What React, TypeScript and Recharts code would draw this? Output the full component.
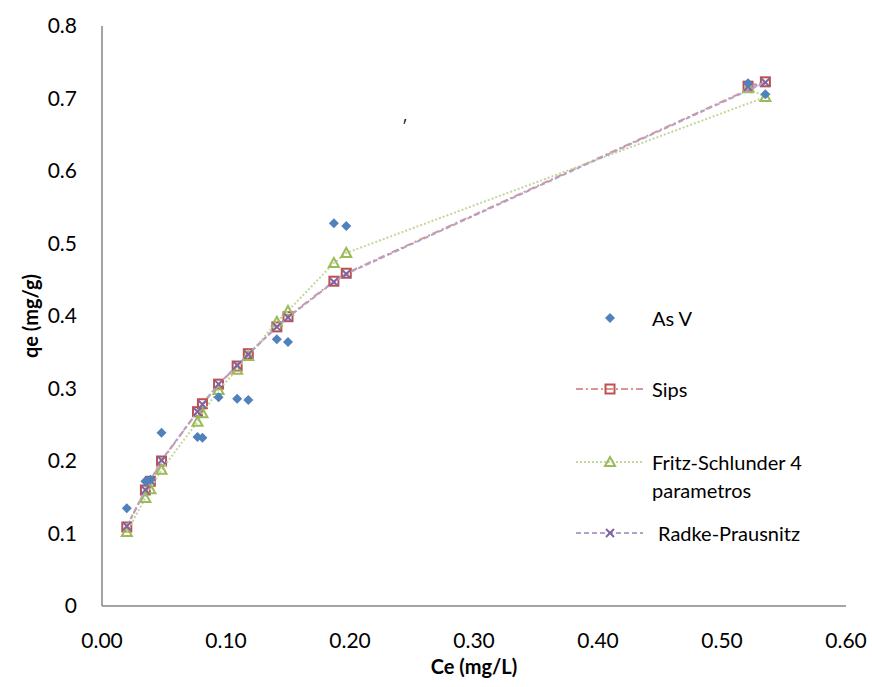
import React from "react";
import {
  ScatterChart,
  Scatter,
  XAxis,
  YAxis,
  Label,
} from "recharts";

// Ce (mg/L) — same order as the source sheet (last two swapped)
const ceValues = [0.02, 0.035, 0.039, 0.048, 0.077, 0.081, 0.094, 0.109, 0.118, 0.141, 0.15, 0.187, 0.197, 0.535, 0.521];

// qe (mg/g)
const asV = [0.135, 0.172, 0.174, 0.239, 0.233, 0.232, 0.288, 0.286, 0.284, 0.368, 0.364, 0.528, 0.524, 0.706, 0.721];
const sips = [0.109, 0.16, 0.172, 0.2, 0.268, 0.279, 0.306, 0.331, 0.348, 0.385, 0.399, 0.448, 0.459, 0.723, 0.717];
const fritz = [0.102, 0.149, 0.161, 0.188, 0.254, 0.266, 0.298, 0.326, 0.345, 0.392, 0.407, 0.473, 0.487, 0.702, 0.714];
const radke = [0.11, 0.16, 0.173, 0.201, 0.268, 0.278, 0.306, 0.332, 0.347, 0.385, 0.398, 0.447, 0.458, 0.722, 0.716];

const xTicks = [0, 0.1, 0.2, 0.3, 0.4, 0.5, 0.6];
const yTicks = [0, 0.1, 0.2, 0.3, 0.4, 0.5, 0.6, 0.7, 0.8];

const FONT = "Lato, 'Open Sans', sans-serif";
const AXIS = "#868686";

const BLUE = "#4F81BD";
const RED = "#C0504D";
const PINK = "#DA9694";
const GREEN = "#9BBB59";
const LIGHT_GREEN = "#C3D69B";
const PURPLE = "#8064A2";
const LIGHT_PURPLE = "#B3A2C7";

const toPoints = (ys: number[]) => ceValues.map((x, i) => ({ x, y: ys[i] }));

function Diamond({ cx, cy }: any) {
  const r = 5;
  return <polygon points={`${cx},${cy - r} ${cx + r},${cy} ${cx},${cy + r} ${cx - r},${cy}`} fill={BLUE} />;
}

function Square({ cx, cy }: any) {
  return <rect x={cx - 4.5} y={cy - 4.5} width={9} height={9} fill="none" stroke={RED} strokeWidth={2} />;
}

function Triangle({ cx, cy }: any) {
  return (
    <polygon
      points={`${cx},${cy - 5} ${cx + 5},${cy + 4} ${cx - 5},${cy + 4}`}
      fill="none"
      stroke={GREEN}
      strokeWidth={2}
    />
  );
}

function Cross({ cx, cy }: any) {
  const r = 4;
  return (
    <g stroke={PURPLE} strokeWidth={2}>
      <line x1={cx - r} y1={cy - r} x2={cx + r} y2={cy + r} />
      <line x1={cx - r} y1={cy + r} x2={cx + r} y2={cy - r} />
    </g>
  );
}

const legendRows = [
  { name: "As V", top: 318, line: null as any, Marker: Diamond, textLeft: 652 },
  { name: "Sips", top: 389, line: { stroke: PINK, dash: "7 3 2 3" }, Marker: Square, textLeft: 652 },
  { name: "Fritz-Schlunder 4\nparametros", top: 462, line: { stroke: LIGHT_GREEN, dash: "2 2" }, Marker: Triangle, textLeft: 652 },
  { name: "Radke-Prausnitz", top: 533, line: { stroke: LIGHT_PURPLE, dash: "5 3" }, Marker: Cross, textLeft: 658 },
];

function ChartLegend() {
  return (
    <div style={{ position: "absolute", left: 0, top: 0, width: 872, height: 687, pointerEvents: "none" }}>
      {legendRows.map((r) => {
        const lines = r.name.split("\n");
        return (
          <div key={r.name}>
            <svg
              width={70}
              height={20}
              style={{ position: "absolute", left: 575, top: r.top - 10 }}
            >
              {r.line && (
                <line x1={1} y1={10} x2={68} y2={10} stroke={r.line.stroke} strokeWidth={2} strokeDasharray={r.line.dash} />
              )}
              <r.Marker cx={35} cy={10} />
            </svg>
            {lines.map((t, i) => (
              <div
                key={t}
                style={{
                  position: "absolute",
                  left: r.textLeft,
                  top: r.top - 14 + i * 28,
                  height: 28,
                  lineHeight: "28px",
                  fontFamily: FONT,
                  fontSize: 20,
                  color: "#000",
                  whiteSpace: "nowrap",
                }}
              >
                {t}
              </div>
            ))}
          </div>
        );
      })}
    </div>
  );
}

function YTitle() {
  return (
    <text
      x={30}
      y={316}
      transform="rotate(-90 30 316)"
      textAnchor="middle"
      dominantBaseline="central"
      fontFamily={FONT}
      fontSize={20}
      fontWeight="bold"
      fill="#000"
    >
      qe (mg/g)
    </text>
  );
}

function XTitle() {
  return (
    <text
      x={474}
      y={666}
      textAnchor="middle"
      dominantBaseline="central"
      fontFamily={FONT}
      fontSize={20}
      fontWeight="bold"
      fill="#000"
    >
      Ce (mg/L)
    </text>
  );
}

export default function App() {
  return (
    <div style={{ position: "absolute", left: 0, top: 0, width: 872, height: 687, background: "#fff" }}>
      <ScatterChart width={872} height={687} margin={{ top: 26, right: 26, left: 0, bottom: 0 }}>
        <XAxis
          type="number"
          dataKey="x"
          domain={[0, 0.6]}
          ticks={xTicks}
          tickFormatter={(v: number) => v.toFixed(2)}
          height={81}
          tickLine={false}
          tickSize={0}
          tickMargin={27}
          axisLine={{ stroke: AXIS, strokeWidth: 1.5 }}
          tick={{ fontFamily: FONT, fontSize: 21, fill: "#000" }}
          interval={0}
        >
          <Label content={<XTitle />} />
        </XAxis>
        <YAxis
          type="number"
          dataKey="y"
          domain={[0, 0.8]}
          ticks={yTicks}
          tickFormatter={(v: number) => (v === 0 ? "0" : v.toFixed(1))}
          width={102}
          tickLine={false}
          tickSize={0}
          tickMargin={25}
          axisLine={{ stroke: AXIS, strokeWidth: 1.5 }}
          tick={{ fontFamily: FONT, fontSize: 21, fill: "#000" }}
          interval={0}
        >
          <Label content={<YTitle />} />
        </YAxis>
        <Scatter
          name="Sips"
          data={toPoints(sips)}
          line={{ stroke: PINK, strokeWidth: 2, strokeDasharray: "7 3 2 3" }}
          lineType="joint"
          shape={(p: any) => <Square {...p} />}
          isAnimationActive={false}
        />
        <Scatter
          name="Fritz-Schlunder 4 parametros"
          data={toPoints(fritz)}
          line={{ stroke: LIGHT_GREEN, strokeWidth: 2, strokeDasharray: "2 2" }}
          lineType="joint"
          shape={(p: any) => <Triangle {...p} />}
          isAnimationActive={false}
        />
        <Scatter
          name="Radke-Prausnitz"
          data={toPoints(radke)}
          line={{ stroke: LIGHT_PURPLE, strokeWidth: 2, strokeDasharray: "5 3" }}
          lineType="joint"
          shape={(p: any) => <Cross {...p} />}
          isAnimationActive={false}
        />
        <Scatter
          name="As V"
          data={toPoints(asV)}
          shape={(p: any) => <Diamond {...p} />}
          isAnimationActive={false}
        />
      </ScatterChart>
      <ChartLegend />
      <div
        style={{
          position: "absolute",
          left: 402,
          top: 116,
          fontFamily: FONT,
          fontSize: 16,
          color: "#000",
        }}
      >
        ′
      </div>
    </div>
  );
}
